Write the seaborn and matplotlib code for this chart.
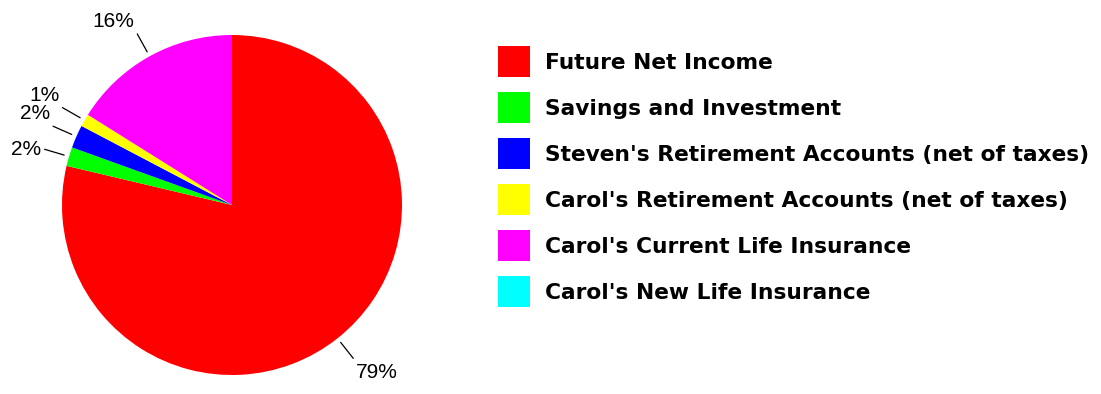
import numpy as np
import matplotlib
matplotlib.use("Agg")
import matplotlib.pyplot as plt
from matplotlib.patches import Patch
import seaborn as sns

categories = [
    "Future Net Income",
    "Savings and Investment",
    "Steven's Retirement Accounts (net of taxes)",
    "Carol's Retirement Accounts (net of taxes)",
    "Carol's Current Life Insurance",
    "Carol's New Life Insurance",
]
values = [78.7, 1.8, 2.2, 1.2, 16.1, 0.0]
colors = ["#FF0000", "#00FF00", "#0000FF", "#FFFF00", "#FF00FF", "#00FFFF"]

sns.set_theme(style="white")
plt.rcParams["font.family"] = ["Liberation Sans", "DejaVu Sans"]
plt.rcParams["text.color"] = "black"

W, H, DPI = 1101, 394, 100
fig = plt.figure(figsize=(W / DPI, H / DPI), dpi=DPI)
ax = fig.add_axes([0, 0, 1, 1])

CX, CY, R = 232, 205, 170  # pixel geometry of the pie
wedges, _ = ax.pie(values, colors=colors, startangle=90, counterclock=False,
                   radius=1, center=(0, 0), wedgeprops=dict(linewidth=0))

ax.set_xlim(-CX / R, (W - CX) / R)
ax.set_ylim((CY - H) / R, CY / R)
ax.set_aspect("auto")
ax.axis("off")

total = sum(values)
px = 1.0 / R
for w, v in zip(wedges, values):
    if v <= 0:
        continue
    th = np.deg2rad((w.theta1 + w.theta2) / 2)
    c, s = np.cos(th), np.sin(th)
    r0, r1 = 1.03, 1.15
    ax.plot([r0 * c, r1 * c], [r0 * s, r1 * s], color="black", lw=0.9)
    ex, ey = r1 * c, r1 * s
    ha = "right" if c < 0 else "left"
    dx = -3 * px if c < 0 else 3 * px
    if s > 0.35:
        va, dy = "bottom", 3 * px
    elif s < -0.35:
        va, dy = "top", -5 * px
    else:
        va, dy = "center", 0
    ax.text(ex + dx, ey + dy, f"{round(v / total * 100):.0f}%", ha=ha, va=va,
            fontsize=15, color="black", family=["Liberation Sans", "DejaVu Sans"])

FS = 15.7
fs_px = FS * DPI / 72
hh = (31 / fs_px - 0.245) / 0.65
handles = [Patch(facecolor=col, edgecolor="none") for col in colors]
leg = fig.legend(handles, categories, loc="upper left",
                 bbox_to_anchor=(498 / W, 1 - 46 / H), frameon=False,
                 prop=dict(family="DejaVu Sans", weight="bold", size=FS),
                 labelcolor="black",
                 handlelength=32 / fs_px, handleheight=hh,
                 labelspacing=15 / fs_px,
                 handletextpad=15 / fs_px, borderpad=0, borderaxespad=0)

fig.savefig("out.png", dpi=DPI)
